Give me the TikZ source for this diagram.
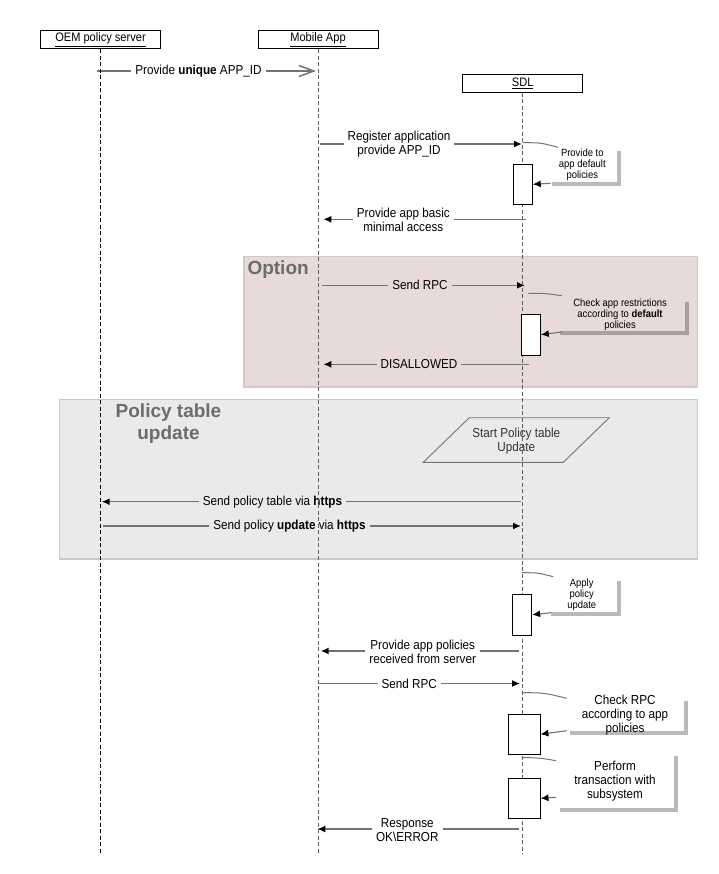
\documentclass[tikz,border=0pt]{standalone}
\usepackage{fontspec}
\setmainfont{Liberation Sans}[FakeStretch=0.9]
\newfontfamily\titlefont{Liberation Sans}
\usepackage{tikz}
\usetikzlibrary{arrows.meta,positioning}
\definecolor{msggray}{RGB}{115,115,115}
\definecolor{lifegray}{RGB}{95,95,95}
\definecolor{optfill}{RGB}{232,218,218}
\definecolor{optdraw}{RGB}{212,200,200}
\definecolor{ptufill}{RGB}{234,234,234}
\definecolor{ptudraw}{RGB}{200,200,200}
\definecolor{titlegray}{RGB}{108,108,108}

\begin{document}
\begin{tikzpicture}[x=1pt, y=-1pt,
    actor/.style={rectangle, draw, fill=white, line width=0.8pt, minimum width=120pt, minimum height=18pt, inner sep=0pt, font=\fontsize{12.3}{14}\selectfont},
    life/.style={line width=0.9pt, dash pattern=on 4pt off 2.5pt},
    msg/.style={draw=msggray, line width=1.5pt, -{Latex[black, length=8pt, width=7pt]}},
    openmsg/.style={draw=msggray, line width=1.5pt, -{Straight Barb[length=15pt, width=11pt]}},
    lbl/.style={fill=white, align=center, inner xsep=4pt, inner ysep=1pt, font=\fontsize{13}{14}\selectfont},
    act/.style={rectangle, draw, fill=white, line width=0.9pt, inner sep=0pt},
    note/.style={align=center, inner sep=0pt, font=\fontsize{10.5}{11}\selectfont},
    bignote/.style={align=center, inner sep=0pt, font=\fontsize{13}{14}\selectfont},
    shadowline/.style={line width=4pt, black, opacity=0.27},
    selftick/.style={draw=msggray, line width=1pt},
    region/.style={rectangle, line width=1.5pt},
    rtitle/.style={text=titlegray, align=center, inner sep=0pt, font=\titlefont\bfseries\fontsize{19}{22.7}\selectfont}
]
    \useasboundingbox (0,0) rectangle (718,874);

    % grouped parts
    \draw[region, fill=optfill, draw=optdraw] (244,256.7) rectangle (697.5,387);
    \draw[region, fill=ptufill, draw=ptudraw] (59.5,399.5) rectangle (697.5,559);
    \node[rtitle, anchor=base west] (optTitle) at (247.3,275) {Option};
    \node[rtitle] (ptuTitle) at (168.5,423.5) {Policy table\\update};

    % actors
    \node[actor] (oem) at (100.5,39.7) {\underline{OEM policy server}};
    \node[actor] (app) at (318,39.7) {\underline{Mobile App}};
    \node[actor] (sdl) at (522.7,83.5) {\underline{SDL}};

    % messages
    \coordinate (m1a) at (97,71);      \coordinate (m1b) at (316,71);
    \coordinate (m2a) at (320,144);    \coordinate (m2b) at (522,144);
    \coordinate (m3a) at (526,219.3);  \coordinate (m3b) at (323.3,219.3);
    \coordinate (m4a) at (321.7,285.3);\coordinate (m4b) at (525,285.3);
    \coordinate (m5a) at (529.3,364.3);\coordinate (m5b) at (323.3,364.3);
    \coordinate (m6a) at (521,501.7);  \coordinate (m6b) at (101.7,501.7);
    \coordinate (m7a) at (103.3,526);  \coordinate (m7b) at (521,526);
    \coordinate (m8a) at (519,651);    \coordinate (m8b) at (320.7,651);
    \coordinate (m9a) at (318.3,683.5);\coordinate (m9b) at (520,683.5);
    \coordinate (m10a) at (519,829);   \coordinate (m10b) at (317.3,829);

    \draw[openmsg] (m1a) -- (m1b);
    \draw[msg] (m2a) -- (m2b);
    \draw[msg] (m3a) -- (m3b);
    \draw[msg] (m4a) -- (m4b);
    \draw[msg] (m5a) -- (m5b);
    \draw[msg] (m6a) -- (m6b);
    \draw[msg] (m7a) -- (m7b);
    \draw[msg] (m8a) -- (m8b);
    \draw[msg] (m9a) -- (m9b);
    \draw[msg] (m10a) -- (m10b);

    \node[lbl] (l1) at (198.5,71) {Provide \textbf{unique} APP\_ID};
    \node[lbl] (l2) at (399,144.5) {Register application\\provide APP\_ID};
    \node[lbl] (l3) at (403.3,219.7) {Provide app basic\\minimal access};
    \node[lbl, fill=optfill] (l4) at (420,285.3) {Send RPC};
    \node[lbl, fill=optfill] (l5) at (419,364.3) {DISALLOWED};
    \node[lbl, fill=ptufill] (l6) at (272.5,501.7) {Send policy table via \textbf{https}};
    \node[lbl, fill=ptufill] (l7) at (289.5,526) {Send policy \textbf{update} via \textbf{https}};
    \node[lbl] (l8) at (422.7,652) {Provide app policies\\received from server};
    \node[lbl] (l9) at (409.3,683.5) {Send RPC};
    \node[lbl] (l10) at (407.3,829.7) {Response\\OK\textbackslash ERROR};

    % start of the update
    \draw[draw=msggray, line width=0.9pt] (423.3,462.3) -- (469.3,417.7) -- (609.3,417.7) -- (563.3,462.3) -- cycle;
    \node[bignote, text=black!80] (ptuStart) at (516.3,441) {Start Policy table\\Update};

    % lifelines
    \draw[life] (oem.south) -- ++(0,805);
    \draw[life, lifegray] (app.south) -- ++(0,805);
    \draw[life, lifegray] (sdl.south) -- ++(0,761);

    % self calls on SDL
    \draw[shadowline] (619.3,150.7) |- (551.7,183.7);
    \draw[shadowline] (686.7,301.7) |- (560,333.3);
    \draw[shadowline] (619.3,581) |- (551,614.3);
    \draw[shadowline] (686,701) |- (570,732.7);
    \draw[shadowline] (675.7,756) |- (560,810);

    \node[act, minimum width=19pt, minimum height=40pt] (a1) at (522.8,184.3) {};
    \node[act, minimum width=19.3pt, minimum height=40.7pt] (a2) at (530.7,334.7) {};
    \node[act, minimum width=19pt, minimum height=40.7pt] (a3) at (522.2,614.7) {};
    \node[act, minimum width=32pt, minimum height=39.7pt] (a4) at (524,734.2) {};
    \node[act, minimum width=32pt, minimum height=40pt] (a5) at (524,798.3) {};

    \node[note] (n1) at (582.3,164.5) {Provide to\\app default\\policies};
    \node[note] (n2) at (620,314.3) {Check app restrictions\\according to \textbf{default}\\policies};
    \node[note] (n3) at (581.7,594.5) {Apply\\policy\\update};
    \node[bignote] (n4) at (625,715.3) {Check RPC\\according to app\\policies};
    \node[bignote] (n5) at (615,781.3) {Perform\\transaction with\\subsystem};

    \coordinate (t1a) at (522.7,142.7); \coordinate (t1b) at (558,147.3);
    \coordinate (t2a) at (528.3,293.3); \coordinate (t2b) at (561.7,295.7);
    \coordinate (t3a) at (521.7,572.7); \coordinate (t3b) at (553.3,576.7);
    \coordinate (t4a) at (521.7,692.7); \coordinate (t4b) at (566.7,698.3);
    \coordinate (t5a) at (521.7,757.7); \coordinate (t5b) at (556,760.7);
    \draw[selftick] (t1a) .. controls +(18,0) .. (t1b);
    \draw[selftick] (t2a) .. controls +(17,0) .. (t2b);
    \draw[selftick] (t3a) .. controls +(16,0) .. (t3b);
    \draw[selftick] (t4a) .. controls +(22,0) .. (t4b);
    \draw[selftick] (t5a) .. controls +(17,0) .. (t5b);

    \coordinate (r1) at (550.7,183.3);
    \coordinate (r2) at (561.7,332);
    \coordinate (r3) at (551,612.7);
    \coordinate (r4) at (566.7,730.7);
    \coordinate (r5) at (556,797.3);
    \draw[msg, line width=1.1pt] (r1) -- (a1.east);
    \draw[msg, line width=1.1pt] (r2) -- (a2.east);
    \draw[msg, line width=1.1pt] (r3) -- (a3.east);
    \draw[msg, line width=1.1pt] (r4) -- (a4.east);
    \draw[msg, line width=1.1pt] (r5) -- (a5.east);
\end{tikzpicture}
\end{document}
